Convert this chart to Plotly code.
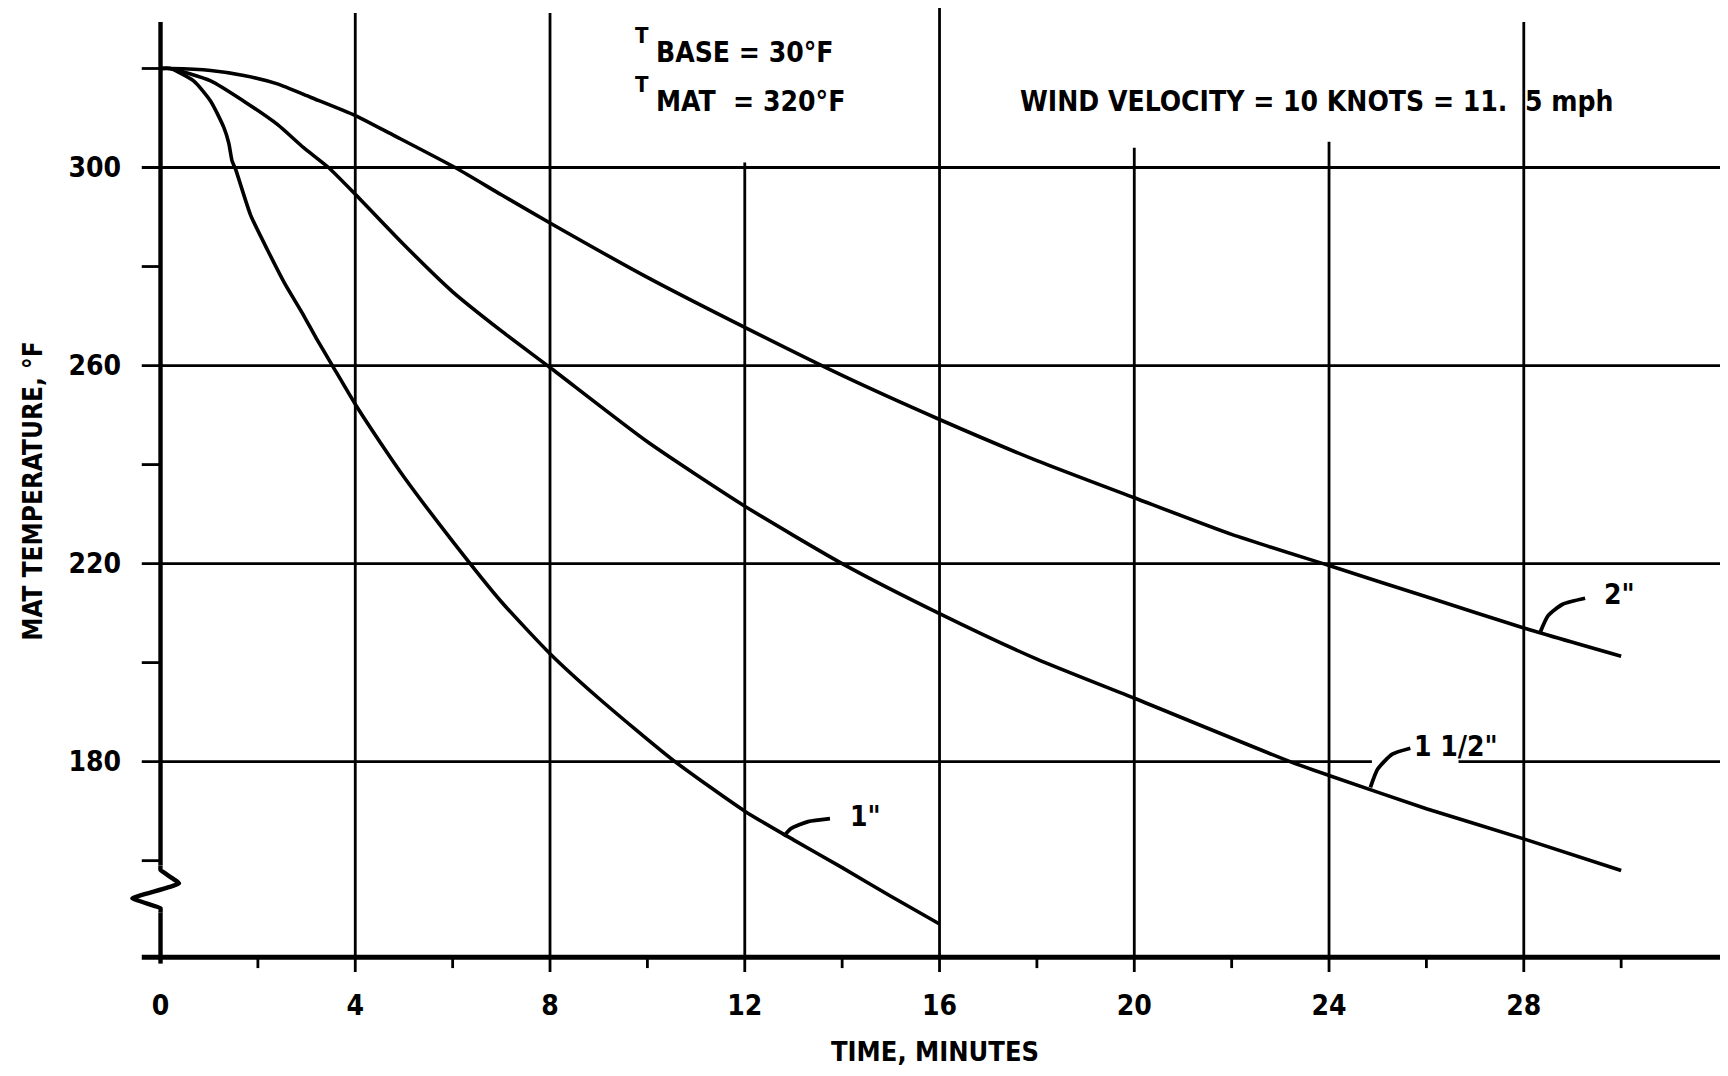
import plotly.graph_objects as go

# ---- data ----
t_1in = [0, 0.2, 0.68, 1.03, 1.3, 1.4, 1.47, 1.54, 1.85, 2.2, 2.55, 2.9, 3.2, 3.53, 4, 4.6, 5, 6, 7, 8, 9, 10.5, 12, 13, 14, 15, 16]
T_1in = [320, 320, 317.5, 313.4, 308.1, 305, 301.3, 299.7, 290.4, 283.3, 276.6, 270.8, 265.5, 260, 252.2, 243.2, 237.5, 224.5, 212.3, 201.8, 192.8, 180.5, 170, 164.2, 158.6, 152.8, 147.2]

t_15in = [0, 0.2, 1.03, 1.71, 2.4, 2.94, 3.45, 4, 5, 6, 7, 8, 10, 12, 14, 16, 18, 20, 23.2, 24, 26, 28, 30]
T_15in = [320, 320, 317.5, 313.4, 308.7, 304, 300, 294.6, 284.4, 274.9, 267.0, 259.6, 244.6, 231.6, 220, 209.9, 200.7, 192.8, 180, 177.2, 170.5, 164.4, 158]

t_2in = [0, 0.2, 1.03, 1.71, 2.4, 3.08, 4, 4.79, 6.05, 7, 8, 10, 12, 14, 16, 18, 20, 22, 24, 26, 28, 30]
T_2in = [320, 320, 319.6, 318.6, 316.9, 314.2, 310.5, 306.5, 300, 294.5, 288.8, 277.8, 267.7, 258, 249.1, 240.8, 233.3, 225.9, 219.6, 213.3, 207, 201.3]

x_major = [0, 4, 8, 12, 16, 20, 24, 28]
x_labels = ["0", "4", "8", "12", "16", "20", "24", "28"]
x_minor = [2, 6, 10, 14, 18, 22, 26, 30]
x_grid_top = [329.4, 331.2, 331.2, 301.0, 332.7, 304.0, 305.2, 329.4]

y_major = [300, 260, 220, 180]
y_labels = ["300", "260", "220", "180"]
y_minor = [320, 280, 240, 200, 160]

# label leaders
lead_1_x = [13.75, 13.3, 12.95, 12.8]
lead_1_y = [168.5, 167.9, 166.5, 164.9]
lead_15_x = [25.67, 25.3, 25.0, 24.85]
lead_15_y = [182.7, 181.5, 178.5, 174.8]
lead_2_x = [29.26, 28.8, 28.5, 28.34]
lead_2_y = [213.0, 211.8, 209.5, 206.2]

# axis break zigzag
zig_x = [0, 0, 0.38, -0.58, 0, 0]
zig_y = [159.0, 158.1, 155.4, 152.4, 150.4, 149.5]

# page has an 8 px body margin: figure is sized/placed to compensate
FIG_W, FIG_H = 1712, 1060
XMIN, XMAX = -0.75, 32.03
YMIN, YMAX = 136.5, 332.22
X_LEFT = -0.385
Y_AXIS = 140.5

FONT = "DejaVu Sans Condensed, Liberation Sans Narrow, DejaVu Sans, sans-serif"
INK = "black"

fig = go.Figure()

def curve(x, y, w=3.6, shape="spline", sm=0.6):
    fig.add_trace(go.Scatter(x=x, y=y, mode="lines",
                             line=dict(color=INK, width=w, shape=shape, smoothing=sm),
                             hoverinfo="skip", showlegend=False))

curve(t_1in, T_1in)
curve(t_15in, T_15in)
curve(t_2in, T_2in)
curve(lead_1_x, lead_1_y, 3.8)
curve(lead_15_x, lead_15_y, 3.8)
curve(lead_2_x, lead_2_y, 3.8)

shapes = []
def seg(x0, y0, x1, y1, w):
    shapes.append(dict(type="line", xref="x", yref="y", x0=x0, y0=y0, x1=x1, y1=y1,
                       line=dict(color=INK, width=w), layer="below"))

GW = 2.8
# horizontal grid lines (180 has a gap for the label)
for v in y_major:
    if v == 180:
        seg(X_LEFT, v, 24.88, v, GW)
        seg(26.66, v, XMAX, v, GW)
    else:
        seg(X_LEFT, v, XMAX, v, GW)
for v in y_minor:
    seg(X_LEFT, v, 0, v, GW)

# vertical grid lines
for xv, top in zip(x_major, x_grid_top):
    if xv == 0:
        continue
    seg(xv, Y_AXIS - 3.0, xv, min(top, YMAX), GW)
for xv in x_minor:
    seg(xv, Y_AXIS - 2.2, xv, Y_AXIS, GW)

# left axis with break
seg(0, x_grid_top[0], 0, zig_y[0], 4.4)
seg(0, zig_y[-1], 0, Y_AXIS - 1.3, 4.4)
fig.add_trace(go.Scatter(x=zig_x, y=zig_y, mode="lines",
                         line=dict(color=INK, width=4.4, shape="spline", smoothing=0.3),
                         hoverinfo="skip", showlegend=False))
# bottom axis
seg(X_LEFT, Y_AXIS, XMAX, Y_AXIS, 5)

ann = []
def txt(x, y, s, size=28, xanchor="left", yanchor="middle", xref="x", yref="y", angle=0):
    ann.append(dict(x=x, y=y, xref=xref, yref=yref, text=s, showarrow=False,
                    xanchor=xanchor, yanchor=yanchor, textangle=angle,
                    font=dict(family=FONT, size=size, color=INK, weight="bold")))

txt(10.08, 326.6, "T", size=22, xanchor="right")
txt(10.14, 323.3, "BASE = 30°F")
txt(10.08, 316.7, "T", size=22, xanchor="right")
txt(10.14, 313.4, "MAT&nbsp;&nbsp;= 320°F")
txt(17.62, 313.4, "WIND VELOCITY = 10 KNOTS = 11.&nbsp; 5 mph")
txt(14.13, 169.0, "1\"")
txt(29.6, 213.8, "2\"")
txt(25.7, 183.0, "1 1/2\"")
txt(15.9, -0.0766, "TIME, MINUTES", size=27, xanchor="center", yref="paper")
txt(-0.0567, 234.6, "MAT TEMPERATURE, °F", size=26, xanchor="center", xref="paper", angle=-90)

fig.update_layout(
    width=FIG_W, height=FIG_H,
    margin=dict(l=115.5, r=0, t=0, b=91.2, autoexpand=False),
    paper_bgcolor="white", plot_bgcolor="white",
    shapes=shapes, annotations=ann, showlegend=False,
    xaxis=dict(range=[XMIN, XMAX], showgrid=False, zeroline=False, showline=False,
               automargin=False,
               tickmode="array", tickvals=x_major, ticktext=x_labels, ticks="",
               ticklabelstandoff=9,
               tickfont=dict(family=FONT, size=28, color=INK, weight="bold")),
    yaxis=dict(range=[YMIN, YMAX], showgrid=False, zeroline=False, showline=False,
               automargin=False,
               tickmode="array", tickvals=y_major, ticktext=y_labels, ticks="",
               ticklabelstandoff=2,
               tickfont=dict(family=FONT, size=28, color=INK, weight="bold")),
)

fig.write_html("out.html")
